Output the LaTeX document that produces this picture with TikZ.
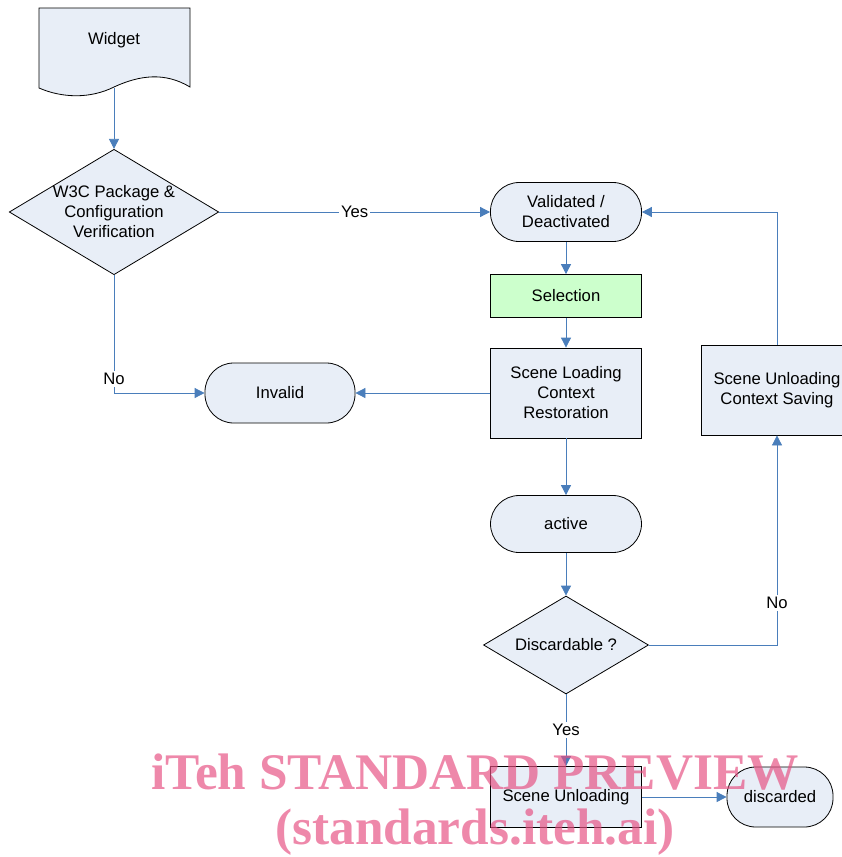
\documentclass[tikz,border=0pt]{standalone}
\usepackage{fontspec}
\setmainfont{Liberation Sans}
\newfontfamily\wmfont{Liberation Serif}
\usetikzlibrary{shapes.geometric,arrows.meta}
\definecolor{boxfill}{RGB}{232,238,247}
\definecolor{selfill}{RGB}{204,255,204}
\definecolor{linecol}{RGB}{74,126,187}
\definecolor{wmcol}{RGB}{230,80,130}
\tikzset{
  base/.style={draw=black, line width=0.6pt, fill=boxfill, align=center, font=\fontsize{12.5}{15}\selectfont, inner sep=0pt},
  boxnode/.style={base, rectangle, minimum width=113.25pt},
  stadium/.style={base, rectangle, rounded corners=21.5pt},
  decision/.style={base, diamond, aspect=1.67},
  conn/.style={draw=linecol, line width=0.6pt},
  arr/.style={conn, -{Triangle[length=7.5pt,width=7.5pt]}, color=linecol},
  lbl/.style={fill=white, text=black, inner sep=1.5pt, font=\fontsize{12.5}{14}\selectfont},
  wm/.style={text=wmcol, opacity=0.68, font=\wmfont\bfseries\fontsize{38.5}{44}\selectfont, anchor=base}
}
\begin{document}
\begin{tikzpicture}[x=0.75pt,y=-0.75pt]
\useasboundingbox (0,0) rectangle (842,857);
\clip (0,0) rectangle (842,857);
% Widget document shape
\draw[line width=0.6pt, fill=boxfill] (39,8) -- (190,8) -- (190,87)
  .. controls (165,72) and (140,75) .. (114,87)
  .. controls (90,99) and (62,98) .. (39,88) -- cycle;
\node[inner sep=0pt, minimum width=113.25pt, minimum height=60pt] (widget) at (114,48) {};
\node[font=\fontsize{12.5}{15}\selectfont] (widgettext) at (114,40) {Widget};

\node[decision, minimum width=156.75pt, minimum height=93.75pt] (w3c) at (114,212) {W3C Package \&\\Configuration\\Verification};
\node[stadium, minimum width=113.25pt, minimum height=44.25pt] (valid) at (566,212) {Validated /\\Deactivated};
\node[boxnode, fill=selfill, minimum height=32.25pt] (sel) at (566,296) {Selection};
\node[boxnode, minimum height=67.5pt] (load) at (566,393) {Scene Loading\\Context\\Restoration};
\node[stadium, minimum width=112.5pt, minimum height=45pt] (invalid) at (280,393) {Invalid};
\node[stadium, minimum width=113.25pt, minimum height=42.75pt] (active) at (566,524) {active};
\node[decision, minimum width=123.75pt, minimum height=73.5pt] (disc) at (566,645) {Discardable ?};
\node[boxnode, minimum height=67.5pt] (sucs) at (777,390) {Scene Unloading\\Context Saving};
\node[boxnode, minimum height=45.75pt] (su) at (566,797) {Scene Unloading};
\node[stadium, minimum width=79.5pt, minimum height=45pt] (discarded) at (780,797) {discarded};

% connectors
\draw[arr] (widget.south) -- (w3c.north);
\draw[arr] (w3c.east) -- node[lbl]{Yes} (valid.west);
\draw[arr] (valid.south) -- (sel.north);
\draw[arr] (sel.south) -- (load.north);
\draw[arr] (load.west) -- (invalid.east);
\draw[arr] (w3c.south) |- node[lbl, pos=0.44]{No} (invalid.west);
\draw[arr] (load.south) -- (active.north);
\draw[arr] (active.south) -- (disc.north);
\draw[arr] (disc.east) -| node[lbl, pos=0.6]{No} (sucs.south);
\draw[arr] (sucs.north) |- (valid.east);
\draw[arr] (disc.south) -- node[lbl]{Yes} (su.north);
\draw[arr] (su.east) -- (discarded.west);

% watermark
\node[wm] (wm1) at (475,789) {iTeh STANDARD PREVIEW};
\node[wm] (wm2) at (475,844) {(standards.iteh.ai)};
\end{tikzpicture}
\end{document}
